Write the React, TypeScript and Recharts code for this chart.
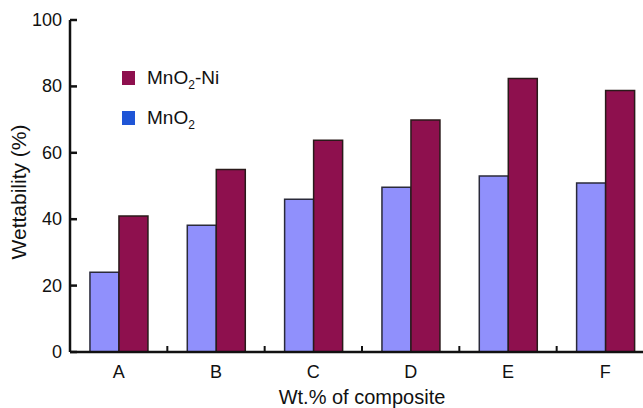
import React from 'react';
import { BarChart, Bar, XAxis, YAxis, Legend } from 'recharts';

const categories = ['A', 'B', 'C', 'D', 'E', 'F'];
const mno2 = [24, 38.2, 46, 49.6, 53, 50.9];
const mno2Ni = [41, 55, 63.8, 69.9, 82.4, 78.8];
const yTicks = [0, 20, 40, 60, 80, 100];

const data = categories.map((c, i) => ({ name: c, mno2: mno2[i], mno2Ni: mno2Ni[i] }));

const FONT = '"Liberation Sans", Arial, Helvetica, sans-serif';
const BLUE_BAR = '#9090fc';
const RED_BAR = '#8e104e';
const BLUE_LEG = '#1f55d6';

const CHART_W = 660;
const MARGIN = { top: 20, right: 6, bottom: 0, left: 0 };
const Y_AXIS_W = 70;
const PLOT_W = CHART_W - MARGIN.left - MARGIN.right - Y_AXIS_W;

const LegendContent = () => {
  const rows = [
    { color: RED_BAR, suffix: '-Ni' },
    { color: BLUE_LEG, suffix: '' },
  ];
  return (
    <div style={{ fontFamily: FONT, fontSize: 19, color: '#111' }}>
      {rows.map((r, i) => (
        <div key={i} style={{ display: 'flex', alignItems: 'center', height: 40 }}>
          <span style={{ display: 'inline-block', width: 13, height: 14, background: r.color, marginRight: 12 }} />
          <span>
            MnO<span style={{ fontSize: 12, position: 'relative', top: 5 }}>2</span>
            {r.suffix}
          </span>
        </div>
      ))}
    </div>
  );
};

const YTick = (props: any) => {
  const { x, y, payload } = props;
  return (
    <g>
      <text x={x} y={y} dy={6} textAnchor="end" fontFamily={FONT} fontSize={18} fill="#111">
        {payload.value}
      </text>
      <line x1={x + 8} x2={x + 15} y1={y} y2={y} stroke="#111" strokeWidth={2.5} />
    </g>
  );
};

const XTick = (props: any) => {
  const { x, y, payload, index } = props;
  const band = (typeof props.width === 'number' && props.width > 100 ? props.width : PLOT_W) / categories.length;
  const axisY = y - 13;
  const bx = x + band / 2;
  return (
    <g>
      <text x={x} y={y} dy={13} textAnchor="middle" fontFamily={FONT} fontSize={18} fill="#111">
        {payload.value}
      </text>
      {index < categories.length - 1 && (
        <line x1={bx} x2={bx} y1={axisY} y2={axisY - 6} stroke="#111" strokeWidth={2} />
      )}
    </g>
  );
};

export default function App() {
  return (
    <div style={{ position: 'absolute', left: 0, top: 0, width: 643, height: 408, overflow: 'hidden', background: '#fff' }}>
      <BarChart
        width={CHART_W}
        height={408}
        data={data}
        margin={MARGIN}
        barCategoryGap="20.5%"
        barGap={0}
      >
        <XAxis
          dataKey="name"
          height={56}
          tickSize={0}
          tickMargin={13}
          axisLine={{ stroke: '#111', strokeWidth: 2.5 }}
          tick={<XTick />}
          label={{ value: 'Wt.% of composite', position: 'insideBottom', offset: 4, style: { fontFamily: FONT, fontSize: 20, fill: '#111' } }}
        />
        <YAxis
          width={Y_AXIS_W}
          domain={[0, 100]}
          ticks={yTicks}
          tickSize={0}
          tickMargin={8}
          axisLine={{ stroke: '#111', strokeWidth: 2.5 }}
          tick={<YTick />}
          label={{ value: 'Wettability (%)', angle: -90, position: 'center', dx: -16, dy: 6, style: { fontFamily: FONT, fontSize: 21, fill: '#111', textAnchor: 'middle' } }}
        />
        <Legend
          layout="vertical"
          align="center"
          verticalAlign="middle"
          wrapperStyle={{ position: 'absolute', left: 122, top: 58, width: 150 }}
          content={<LegendContent />}
        />
        <Bar dataKey="mno2" fill={BLUE_BAR} stroke="#2a2a3a" strokeWidth={1.5} isAnimationActive={false} />
        <Bar dataKey="mno2Ni" fill={RED_BAR} stroke="#2a1a1a" strokeWidth={1.5} isAnimationActive={false} />
      </BarChart>
    </div>
  );
}
